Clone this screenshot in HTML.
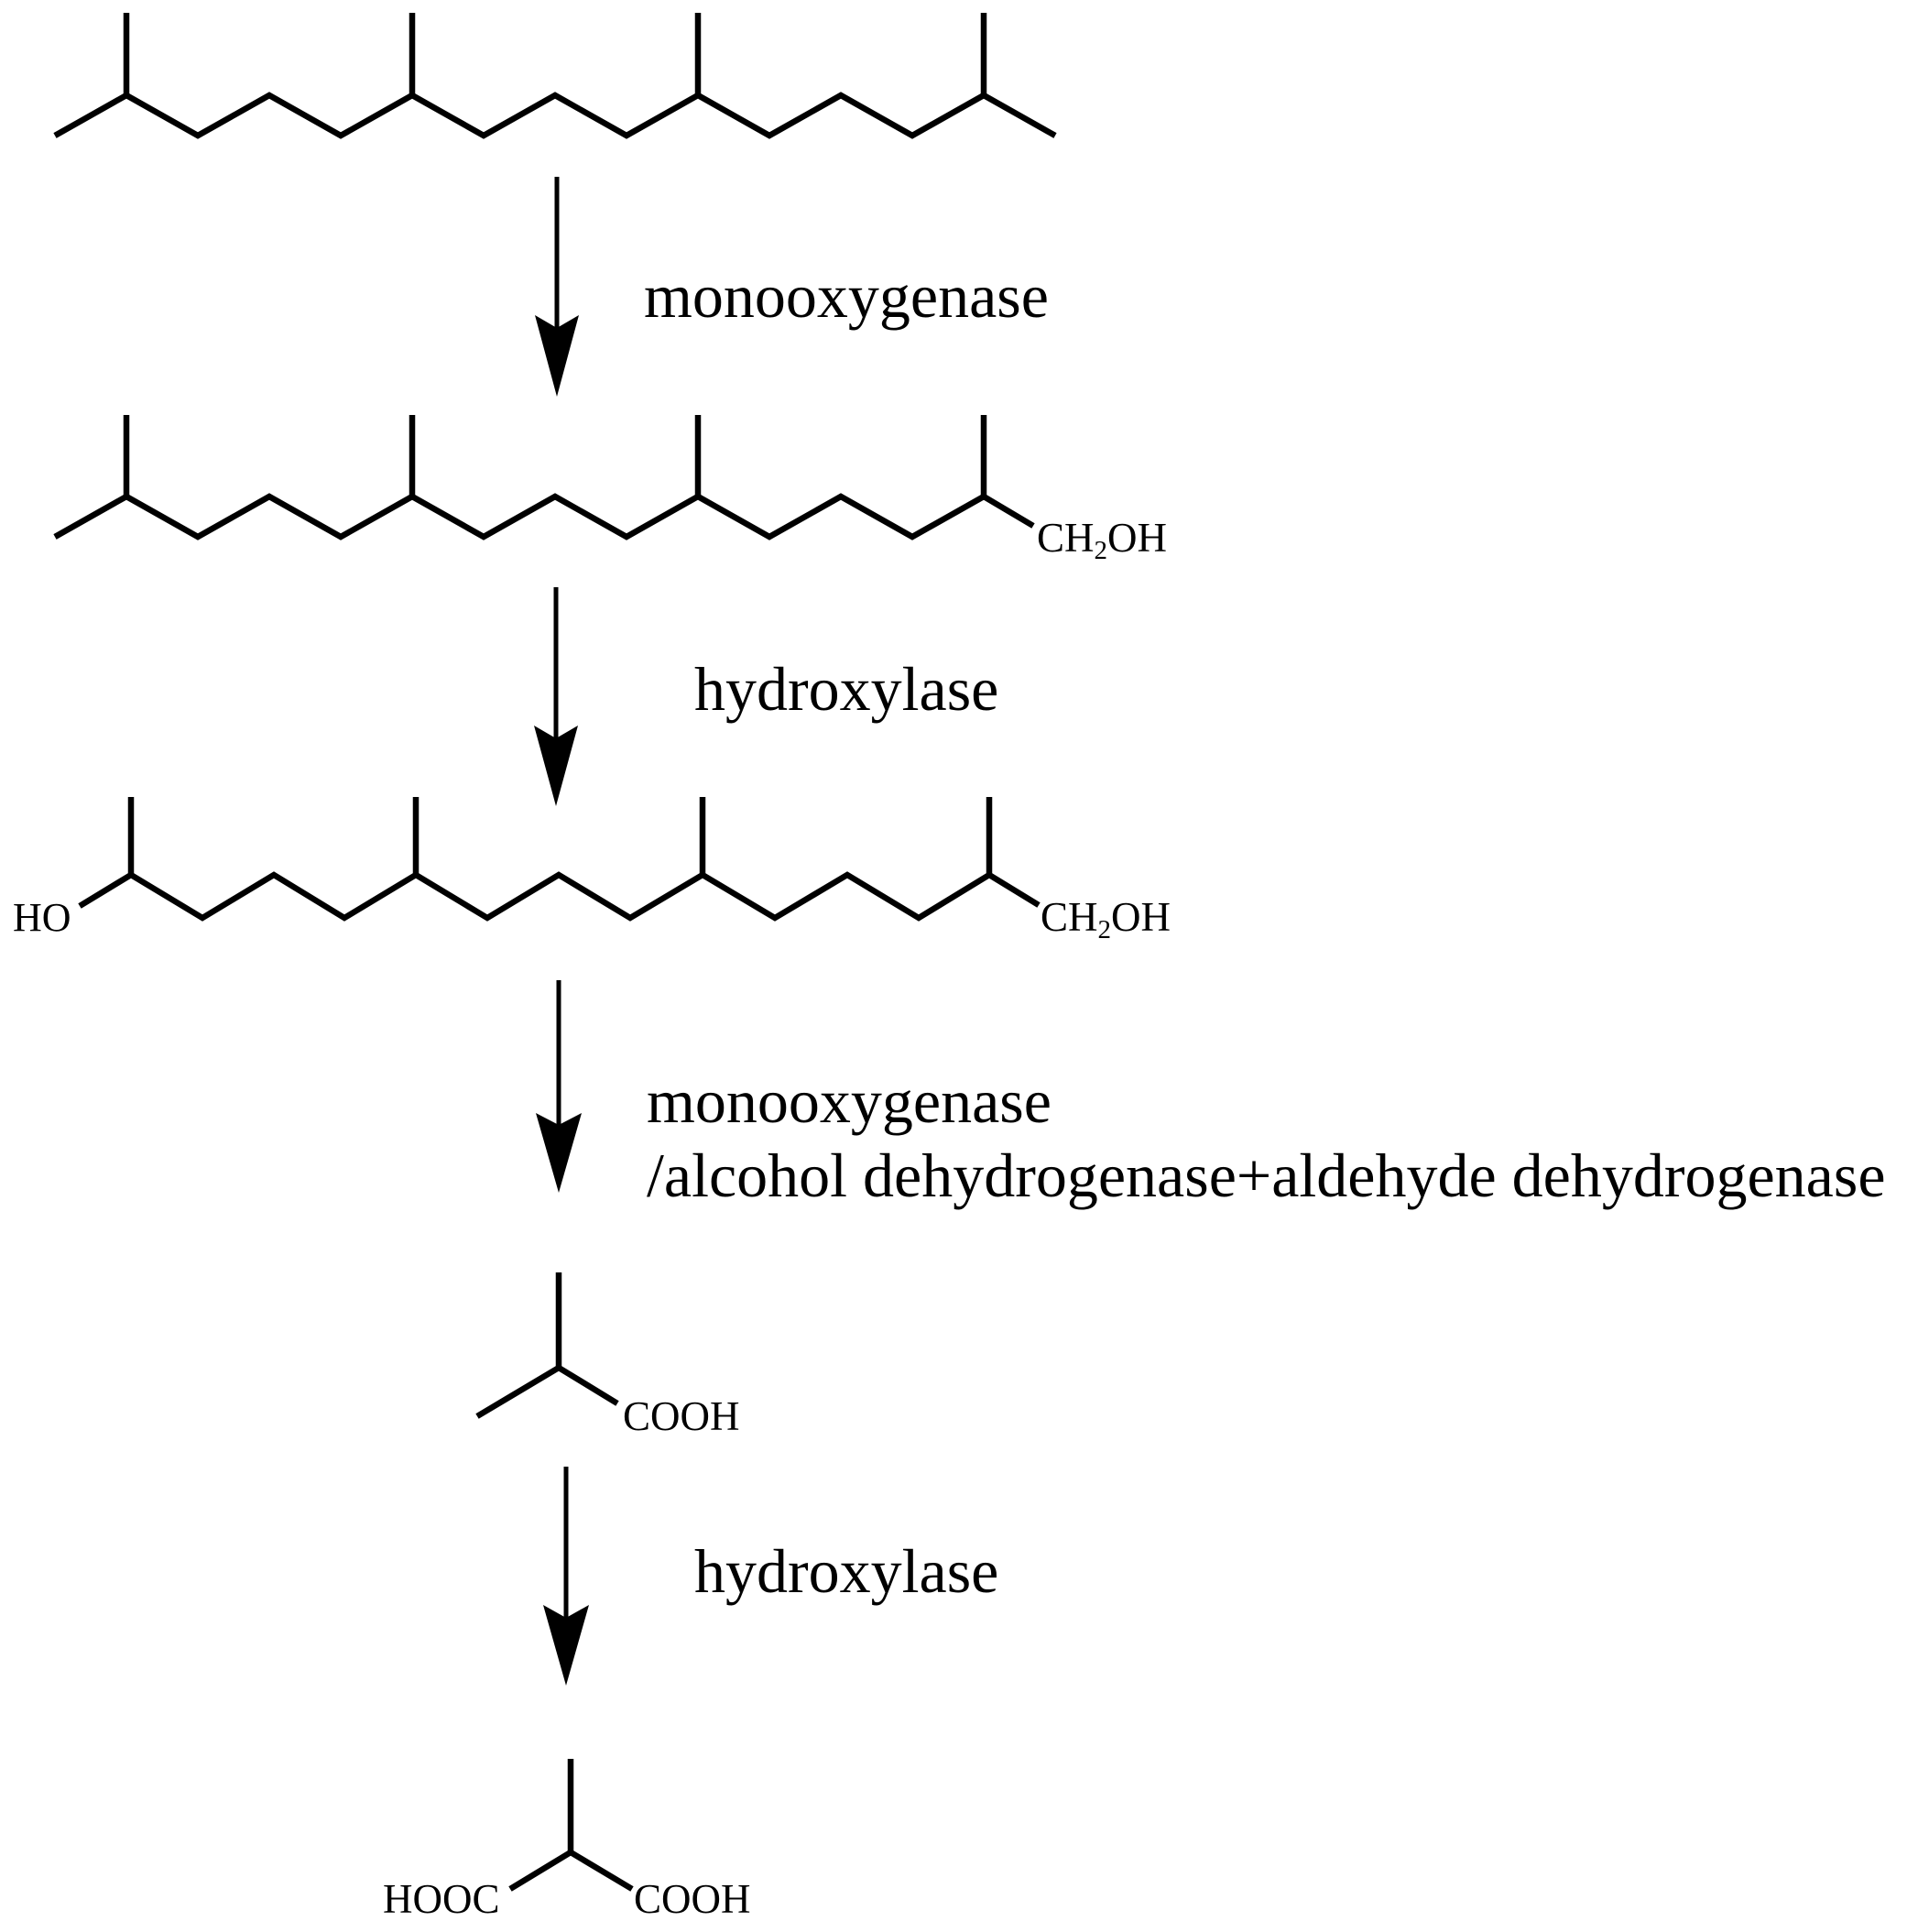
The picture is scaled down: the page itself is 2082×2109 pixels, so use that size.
<!DOCTYPE html>
<html><head><meta charset="utf-8"><style>
html,body{margin:0;padding:0;background:#fff;}
svg{display:block;}
text{font-family:"Liberation Serif",serif;fill:#000;}
</style></head><body>
<svg width="2082" height="2109" viewBox="0 0 2082 2109" xmlns="http://www.w3.org/2000/svg">
<g fill="none" stroke="#000" stroke-width="6.5" stroke-linejoin="miter" stroke-linecap="butt">
<polyline points="60,148 138,104 216,148 294,104 372,148 450,104 528,148 606,104 684,148 762,104 840,148 918,104 996,148 1074,104 1152,148"/>
<line x1="138" y1="104" x2="138" y2="14"/>
<line x1="450" y1="104" x2="450" y2="14"/>
<line x1="762" y1="104" x2="762" y2="14"/>
<line x1="1074" y1="104" x2="1074" y2="14"/>
<polyline points="60,586 138,542 216,586 294,542 372,586 450,542 528,586 606,542 684,586 762,542 840,586 918,542 996,586 1074,542 1128,574"/>
<line x1="138" y1="542" x2="138" y2="453"/>
<line x1="450" y1="542" x2="450" y2="453"/>
<line x1="762" y1="542" x2="762" y2="453"/>
<line x1="1074" y1="542" x2="1074" y2="453"/>
<polyline points="87,989 143,955 221,1002 299,955 376,1002 454,955 532,1002 610,955 688,1002 767,955 846,1002 925,955 1003,1002 1080,955 1134,988"/>
<line x1="143" y1="955" x2="143" y2="870"/>
<line x1="454" y1="955" x2="454" y2="870"/>
<line x1="767" y1="955" x2="767" y2="870"/>
<line x1="1080" y1="955" x2="1080" y2="870"/>
<polyline points="521,1546 610,1493 674,1532"/>
<line x1="610" y1="1493" x2="610" y2="1389"/>
<polyline points="557,2062 623,2022 690,2062"/>
<line x1="623" y1="2022" x2="623" y2="1920"/>
</g>
<g stroke="#000" stroke-width="5" fill="#000">
<line x1="608" y1="193" x2="608" y2="360"/>
<polygon stroke="none" points="584,344 608,358 632,344 608,433"/>
<line x1="607" y1="641" x2="607" y2="808"/>
<polygon stroke="none" points="583,792 607,806 631,792 607,880"/>
<line x1="610" y1="1070" x2="610" y2="1230"/>
<polygon stroke="none" points="585,1215 610,1228 635,1215 610,1302"/>
<line x1="618" y1="1601" x2="618" y2="1768"/>
<polygon stroke="none" points="593,1752 618,1766 643,1752 618,1840"/>
</g>
<text x="703" y="346" font-size="68">monooxygenase</text>
<text x="758" y="775" font-size="68">hydroxylase</text>
<text x="706" y="1225" font-size="68">monooxygenase</text>
<text x="706" y="1306" font-size="68">/alcohol dehydrogenase+aldehyde dehydrogenase</text>
<text x="758" y="1738" font-size="68">hydroxylase</text>
<text x="1132" y="602" font-size="45">CH<tspan font-size="29" dy="8">2</tspan><tspan dy="-8">OH</tspan></text>
<text x="14" y="1016" font-size="44">HO</text>
<text x="1136" y="1016" font-size="45">CH<tspan font-size="29" dy="8">2</tspan><tspan dy="-8">OH</tspan></text>
<text x="680" y="1561" font-size="45">COOH</text>
<text x="418" y="2088" font-size="45">HOOC</text>
<text x="692" y="2088" font-size="45">COOH</text>
</svg>
</body></html>
